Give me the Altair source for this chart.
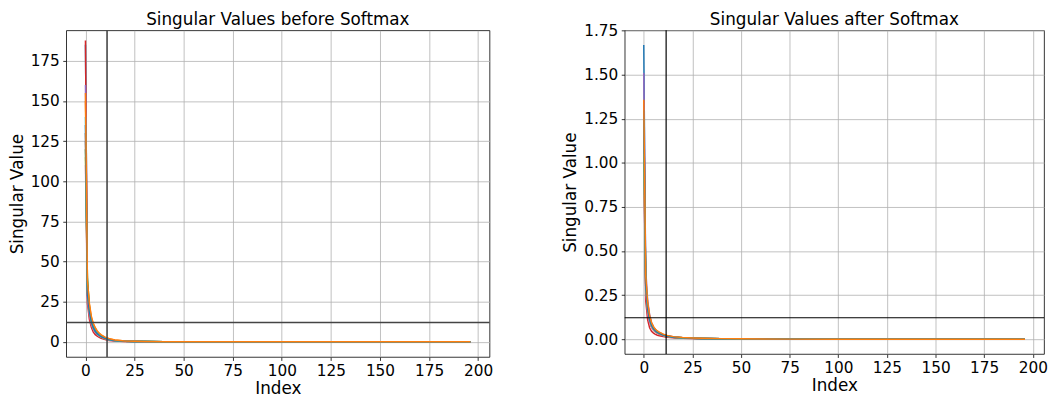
import altair as alt
import pandas as pd

FONT = "DejaVu Sans"

IDX = [0, 1, 2, 3, 4, 5, 6, 7, 8, 10, 12, 15, 20, 25, 30, 40, 50, 75, 100, 150, 196]

HEADS = ["h00", "h01", "h02", "h03", "h04", "h05", "h06", "h07", "h08", "h09", "h10", "h11"]
COLORS = ["#1f77b4", "#ff7f0e", "#2ca02c", "#d62728", "#9467bd", "#8c564b",
          "#e377c2", "#7f7f7f", "#bcbd22", "#17becf", "#1f77b4", "#ff7f0e"]

# singular values before softmax, one list per head
B00 = [185, 32, 20, 13, 9, 7, 5.5, 4.5, 3.6, 2.4, 1.6, 0.9, 0.45, 0.28, 0.18, 0.09, 0.05, 0.02, 0.01, 0.004, 0.0]
B01 = [150, 36, 23, 15, 11, 8.5, 6.5, 5.2, 4.2, 2.8, 1.9, 1.1, 0.55, 0.32, 0.2, 0.1, 0.06, 0.025, 0.012, 0.004, 0.0]
B02 = [120, 40, 22, 13, 9, 6.5, 5, 4, 3.2, 2.1, 1.4, 0.8, 0.4, 0.25, 0.16, 0.08, 0.045, 0.02, 0.01, 0.003, 0.0]
B03 = [187.7, 24, 14, 9, 6, 4.5, 3.5, 2.8, 2.2, 1.4, 0.9, 0.5, 0.25, 0.15, 0.1, 0.05, 0.03, 0.012, 0.006, 0.002, 0.0]
B04 = [160, 30, 19, 12, 8.5, 6.3, 4.9, 3.9, 3.1, 2.0, 1.3, 0.75, 0.38, 0.23, 0.15, 0.07, 0.04, 0.016, 0.008, 0.003, 0.0]
B05 = [130, 28, 18, 11.5, 8, 6, 4.6, 3.7, 3.0, 1.9, 1.25, 0.7, 0.35, 0.21, 0.14, 0.07, 0.04, 0.015, 0.007, 0.002, 0.0]
B06 = [110, 27, 17, 11, 7.8, 5.8, 4.5, 3.6, 2.9, 1.9, 1.2, 0.7, 0.35, 0.2, 0.13, 0.065, 0.035, 0.014, 0.007, 0.002, 0.0]
B07 = [125, 29, 18.5, 12, 8.4, 6.2, 4.8, 3.8, 3.1, 2.0, 1.3, 0.75, 0.37, 0.22, 0.14, 0.07, 0.04, 0.016, 0.008, 0.003, 0.0]
B08 = [115, 31, 19.5, 12.5, 8.8, 6.5, 5.0, 4.0, 3.2, 2.1, 1.4, 0.8, 0.4, 0.24, 0.15, 0.075, 0.042, 0.017, 0.008, 0.003, 0.0]
B09 = [140, 33, 21, 13.5, 9.5, 7.0, 5.4, 4.3, 3.5, 2.3, 1.5, 0.85, 0.42, 0.26, 0.17, 0.085, 0.048, 0.019, 0.009, 0.003, 0.0]
B10 = [135, 30, 19, 12.5, 8.8, 6.6, 5.1, 4.1, 3.3, 2.2, 1.45, 0.8, 0.4, 0.24, 0.16, 0.08, 0.045, 0.018, 0.009, 0.003, 0.0]
B11 = [155, 38, 24, 16, 11.5, 8.8, 6.8, 5.5, 4.4, 2.9, 2.0, 1.15, 0.58, 0.34, 0.22, 0.11, 0.06, 0.025, 0.012, 0.004, 0.0]

# singular values after softmax, one list per head
A00 = [1.668, 0.32, 0.17, 0.11, 0.075, 0.058, 0.047, 0.039, 0.033, 0.024, 0.018, 0.012, 0.008, 0.006, 0.0045, 0.003, 0.002, 0.0006, 0.0003, 0.0001, 0.0]
A01 = [1.20, 0.35, 0.20, 0.13, 0.09, 0.068, 0.054, 0.044, 0.037, 0.027, 0.02, 0.014, 0.009, 0.007, 0.005, 0.0035, 0.0025, 0.0007, 0.0003, 0.0001, 0.0]
A02 = [1.15, 0.33, 0.16, 0.10, 0.07, 0.052, 0.042, 0.035, 0.029, 0.021, 0.016, 0.011, 0.007, 0.005, 0.004, 0.0028, 0.002, 0.0006, 0.0003, 0.0001, 0.0]
A03 = [1.35, 0.22, 0.11, 0.065, 0.045, 0.035, 0.028, 0.023, 0.02, 0.015, 0.012, 0.008, 0.005, 0.004, 0.003, 0.002, 0.0015, 0.0005, 0.0002, 0.0001, 0.0]
A04 = [1.509, 0.40, 0.22, 0.14, 0.095, 0.07, 0.055, 0.045, 0.038, 0.027, 0.02, 0.014, 0.009, 0.0065, 0.005, 0.0034, 0.0024, 0.0007, 0.0003, 0.0001, 0.0]
A05 = [1.00, 0.30, 0.16, 0.10, 0.07, 0.054, 0.043, 0.036, 0.03, 0.022, 0.017, 0.011, 0.0075, 0.0055, 0.0042, 0.0029, 0.002, 0.0006, 0.0003, 0.0001, 0.0]
A06 = [0.95, 0.28, 0.15, 0.095, 0.067, 0.051, 0.041, 0.034, 0.029, 0.021, 0.016, 0.011, 0.007, 0.0052, 0.004, 0.0027, 0.0019, 0.0006, 0.0003, 0.0001, 0.0]
A07 = [1.10, 0.30, 0.17, 0.11, 0.077, 0.058, 0.046, 0.038, 0.032, 0.023, 0.017, 0.012, 0.0078, 0.0058, 0.0044, 0.003, 0.0021, 0.0006, 0.0003, 0.0001, 0.0]
A08 = [1.05, 0.31, 0.17, 0.11, 0.076, 0.057, 0.046, 0.038, 0.032, 0.023, 0.017, 0.012, 0.0078, 0.0057, 0.0044, 0.003, 0.0021, 0.0006, 0.0003, 0.0001, 0.0]
A09 = [1.25, 0.34, 0.19, 0.12, 0.085, 0.064, 0.051, 0.042, 0.035, 0.025, 0.019, 0.013, 0.0085, 0.0062, 0.0048, 0.0033, 0.0023, 0.0007, 0.0003, 0.0001, 0.0]
A10 = [1.30, 0.31, 0.17, 0.11, 0.078, 0.059, 0.047, 0.039, 0.033, 0.024, 0.018, 0.012, 0.008, 0.006, 0.0046, 0.0031, 0.0022, 0.0007, 0.0003, 0.0001, 0.0]
A11 = [1.357, 0.36, 0.21, 0.135, 0.095, 0.072, 0.057, 0.047, 0.04, 0.029, 0.022, 0.015, 0.0095, 0.007, 0.0053, 0.0036, 0.0026, 0.0008, 0.0004, 0.0001, 0.0]

BEFORE = [B00, B01, B02, B03, B04, B05, B06, B07, B08, B09, B10, B11]
AFTER = [A00, A01, A02, A03, A04, A05, A06, A07, A08, A09, A10, A11]

TITLE_B = "Singular Values before Softmax"
TITLE_A = "Singular Values after Softmax"

X_TICKS = [0, 25, 50, 75, 100, 125, 150, 175, 200]
Y_TICKS_B = [0, 25, 50, 75, 100, 125, 150, 175]
Y_TICKS_A = [0.0, 0.25, 0.5, 0.75, 1.0, 1.25, 1.5, 1.75]

VLINE_B, HLINE_B = 11, 12
VLINE_A, HLINE_A = 11.5, 0.122


def long_frame(series):
    rows = []
    for h, vals in zip(HEADS, series):
        for i, v in zip(IDX, vals):
            rows.append({"Index": i, "value": v, "head": h})
    return pd.DataFrame(rows)


def panel(series, title, ydom, yticks, yfmt, vx, hy, w, h, rule_color, rule_w):
    df = long_frame(series)
    xs = alt.Scale(domain=[-9.8, 205.8], nice=False, zero=False)
    ys = alt.Scale(domain=ydom, nice=False, zero=False)
    lines = alt.Chart(df).mark_line(strokeWidth=1.5, clip=True).encode(
        x=alt.X("Index:Q", scale=xs,
                axis=alt.Axis(values=X_TICKS, title="Index", titlePadding=2)),
        y=alt.Y("value:Q", scale=ys,
                axis=alt.Axis(values=yticks, format=yfmt, title="Singular Value")),
        color=alt.Color("head:N", scale=alt.Scale(domain=HEADS, range=COLORS), legend=None),
        order=alt.Order("Index:Q"),
    )
    vrule = alt.Chart(pd.DataFrame({"Index": [vx]})).mark_rule(
        color=rule_color, strokeWidth=rule_w).encode(x=alt.X("Index:Q", scale=xs))
    hrule = alt.Chart(pd.DataFrame({"value": [hy]})).mark_rule(
        color=rule_color, strokeWidth=rule_w).encode(y=alt.Y("value:Q", scale=ys))
    ttl = alt.Chart(pd.DataFrame({"t": [title]})).mark_text(
        font=FONT, fontSize=17, color="black", align="center", baseline="alphabetic",
    ).encode(x=alt.value(w / 2), y=alt.value(-5), text="t:N")
    return alt.layer(lines, vrule, hrule, ttl).properties(width=w, height=h)


left = panel(BEFORE, TITLE_B, [-9.4, 194.0], Y_TICKS_B, "d",
             VLINE_B, HLINE_B, 429, 331, "#444444", 1.6)
right = panel(AFTER, TITLE_A, [-0.0834, 1.751], Y_TICKS_A, ".2f",
              VLINE_A, HLINE_A, 425, 328, "black", 1.2)

chart = alt.hconcat(left, right, spacing=69).configure(
    padding=0,
    background="white",
).configure_view(
    stroke="black", strokeWidth=0.8,
).configure_axis(
    domain=False,
    grid=True, gridColor="#b0b0b0", gridWidth=0.8,
    ticks=True, tickColor="black", tickSize=3.5, tickWidth=0.8,
    labelFont=FONT, labelFontSize=15.5, labelColor="black", labelPadding=3.5,
    titleFont=FONT, titleFontSize=17, titleFontWeight="normal", titleColor="black",
    titlePadding=4,
)

chart.save("out.html", embed_options={"renderer": "svg", "actions": False})
